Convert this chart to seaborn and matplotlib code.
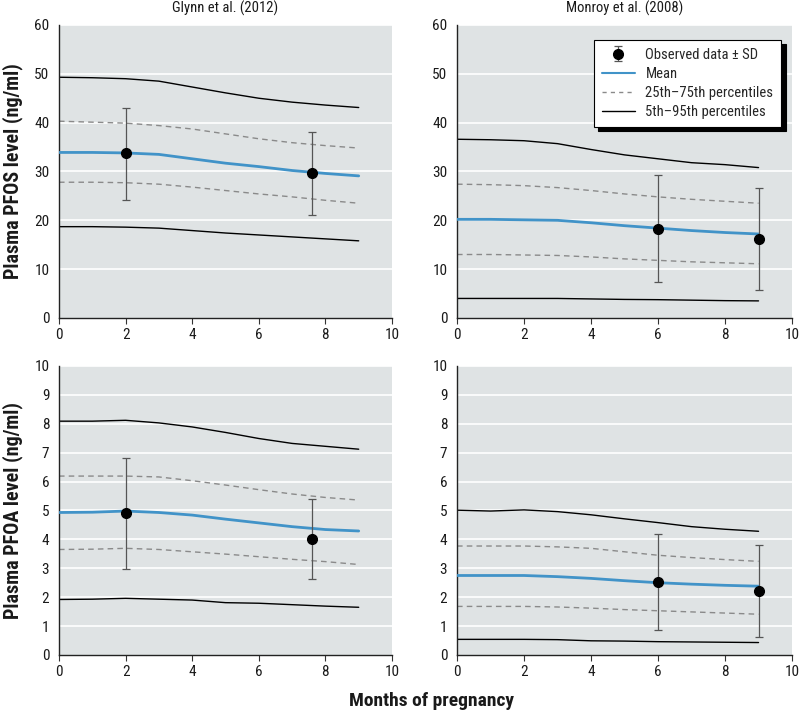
import numpy as np
import pandas as pd
import matplotlib
matplotlib.use("Agg")
import matplotlib.pyplot as plt
import seaborn as sns
from matplotlib.lines import Line2D
from matplotlib import font_manager as fm

# ---------------- data ----------------
months = [0, 1, 2, 3, 4, 5, 6, 7, 8, 9]

glynn_pfos_p95 = [49.3, 49.2, 49.0, 48.5, 47.3, 46.1, 45.0, 44.2, 43.6, 43.1]
glynn_pfos_p75 = [40.3, 40.1, 39.9, 39.4, 38.7, 37.7, 36.7, 35.9, 35.3, 34.8]
glynn_pfos_mean = [33.9, 33.9, 33.8, 33.5, 32.6, 31.7, 31.0, 30.2, 29.6, 29.1]
glynn_pfos_p25 = [27.8, 27.8, 27.7, 27.4, 26.8, 26.1, 25.4, 24.8, 24.1, 23.5]
glynn_pfos_p05 = [18.7, 18.7, 18.6, 18.4, 17.9, 17.4, 17.0, 16.6, 16.2, 15.8]
glynn_pfos_obs_x = [2.0, 7.6]
glynn_pfos_obs_y = [33.7, 29.6]
glynn_pfos_obs_lo = [24.2, 21.0]
glynn_pfos_obs_hi = [42.9, 38.0]

monroy_pfos_p95 = [36.6, 36.5, 36.3, 35.7, 34.5, 33.4, 32.6, 31.8, 31.4, 30.8]
monroy_pfos_p75 = [27.4, 27.3, 27.1, 26.7, 26.1, 25.4, 24.8, 24.3, 23.9, 23.5]
monroy_pfos_mean = [20.2, 20.2, 20.1, 20.0, 19.5, 18.9, 18.4, 17.9, 17.5, 17.2]
monroy_pfos_p25 = [13.0, 13.0, 12.9, 12.8, 12.5, 12.1, 11.8, 11.5, 11.3, 11.1]
monroy_pfos_p05 = [4.0, 4.0, 4.0, 4.0, 3.9, 3.8, 3.75, 3.65, 3.55, 3.5]
monroy_pfos_obs_x = [6.0, 9.0]
monroy_pfos_obs_y = [18.3, 16.2]
monroy_pfos_obs_lo = [7.3, 5.7]
monroy_pfos_obs_hi = [29.2, 26.6]

glynn_pfoa_p95 = [8.09, 8.09, 8.12, 8.03, 7.89, 7.70, 7.49, 7.32, 7.22, 7.12]
glynn_pfoa_p75 = [6.19, 6.19, 6.19, 6.16, 6.03, 5.88, 5.72, 5.57, 5.45, 5.36]
glynn_pfoa_mean = [4.93, 4.94, 4.98, 4.93, 4.84, 4.70, 4.57, 4.44, 4.34, 4.29]
glynn_pfoa_p25 = [3.65, 3.66, 3.69, 3.65, 3.57, 3.49, 3.40, 3.31, 3.23, 3.13]
glynn_pfoa_p05 = [1.92, 1.93, 1.96, 1.93, 1.90, 1.81, 1.79, 1.74, 1.69, 1.65]
glynn_pfoa_obs_x = [2.0, 7.6]
glynn_pfoa_obs_y = [4.92, 4.01]
glynn_pfoa_obs_lo = [2.98, 2.62]
glynn_pfoa_obs_hi = [6.80, 5.39]

monroy_pfoa_p95 = [5.01, 4.98, 5.02, 4.96, 4.85, 4.71, 4.58, 4.44, 4.35, 4.28]
monroy_pfoa_p75 = [3.77, 3.77, 3.77, 3.74, 3.69, 3.57, 3.45, 3.37, 3.30, 3.24]
monroy_pfoa_mean = [2.75, 2.75, 2.75, 2.71, 2.65, 2.57, 2.50, 2.45, 2.41, 2.38]
monroy_pfoa_p25 = [1.68, 1.68, 1.68, 1.66, 1.62, 1.57, 1.53, 1.49, 1.45, 1.41]
monroy_pfoa_p05 = [0.54, 0.54, 0.54, 0.53, 0.49, 0.48, 0.46, 0.45, 0.44, 0.43]
monroy_pfoa_obs_x = [6.0, 9.0]
monroy_pfoa_obs_y = [2.54, 2.23]
monroy_pfoa_obs_lo = [0.87, 0.61]
monroy_pfoa_obs_hi = [4.17, 3.80]

titles = ["Glynn et al. (2012)", "Monroy et al. (2008)"]
ylabels = ["Plasma PFOS level (ng/ml)", "Plasma PFOA level (ng/ml)"]
xlabel = "Months of pregnancy"
legend_labels = ["Observed data \u00b1 SD", "Mean", "25th\u201375th percentiles", "5th\u201395th percentiles"]

# ---------------- style ----------------
sns.set_theme(style="white")
names = {f.name for f in fm.fontManager.ttflist}
fam = [n for n in ["Liberation Sans Narrow", "Roboto Condensed", "Open Sans Condensed",
                   "DejaVu Sans"] if n in names]
plt.rcParams['font.family'] = fam + ['DejaVu Sans']
plt.rcParams['font.stretch'] = 'condensed'

BG = "#dfe3e4"
BLUE = "#4193c8"
DASH = "#8a8a8a"
ERR = "#555555"
TXT = "#1a1a1a"

fig = plt.figure(figsize=(8, 7.12), dpi=100)
pos = {
    (0, 0): [0.07375, 0.5534, 0.41625, 0.4115],
    (0, 1): [0.5713, 0.5534, 0.41875, 0.4115],
    (1, 0): [0.07375, 0.0801, 0.41625, 0.4059],
    (1, 1): [0.5713, 0.0801, 0.41875, 0.4059],
}

panels = {
    (0, 0): (glynn_pfos_p95, glynn_pfos_p75, glynn_pfos_mean, glynn_pfos_p25, glynn_pfos_p05,
             glynn_pfos_obs_x, glynn_pfos_obs_y, glynn_pfos_obs_lo, glynn_pfos_obs_hi),
    (0, 1): (monroy_pfos_p95, monroy_pfos_p75, monroy_pfos_mean, monroy_pfos_p25, monroy_pfos_p05,
             monroy_pfos_obs_x, monroy_pfos_obs_y, monroy_pfos_obs_lo, monroy_pfos_obs_hi),
    (1, 0): (glynn_pfoa_p95, glynn_pfoa_p75, glynn_pfoa_mean, glynn_pfoa_p25, glynn_pfoa_p05,
             glynn_pfoa_obs_x, glynn_pfoa_obs_y, glynn_pfoa_obs_lo, glynn_pfoa_obs_hi),
    (1, 1): (monroy_pfoa_p95, monroy_pfoa_p75, monroy_pfoa_mean, monroy_pfoa_p25, monroy_pfoa_p05,
             monroy_pfoa_obs_x, monroy_pfoa_obs_y, monroy_pfoa_obs_lo, monroy_pfoa_obs_hi),
}

for (r, c), vals in panels.items():
    p95, p75, mean, p25, p05, ox, oy, olo, ohi = vals
    ax = fig.add_axes(pos[(r, c)])
    ax.set_facecolor(BG)
    df = pd.DataFrame({"month": months, "p95": p95, "p75": p75, "mean": mean,
                       "p25": p25, "p05": p05})
    ymax = 60 if r == 0 else 10
    step = 10 if r == 0 else 1
    yt = np.arange(0, ymax + step / 2, step)
    for y in yt[1:]:
        ax.axhline(y, color="white", lw=1.2, zorder=0.5)

    sns.lineplot(data=df, x="month", y="p95", ax=ax, color="black", lw=1.0, zorder=2)
    sns.lineplot(data=df, x="month", y="p05", ax=ax, color="black", lw=1.0, zorder=2)
    sns.lineplot(data=df, x="month", y="p75", ax=ax, color=DASH, lw=1.0, zorder=2,
                 linestyle=(0, (4, 3)))
    sns.lineplot(data=df, x="month", y="p25", ax=ax, color=DASH, lw=1.0, zorder=2,
                 linestyle=(0, (4, 3)))
    sns.lineplot(data=df, x="month", y="mean", ax=ax, color=BLUE, lw=2.0, zorder=3)

    oy_a = np.array(oy)
    yerr = np.vstack([oy_a - np.array(olo), np.array(ohi) - oy_a])
    ax.errorbar(ox, oy, yerr=yerr, fmt="o", color="black", ms=7, ecolor=ERR,
                elinewidth=0.9, capsize=3, capthick=0.9, zorder=4)

    ax.set_xlim(0, 10)
    ax.set_ylim(0, ymax)
    ax.set_xticks([0, 2, 4, 6, 8, 10])
    ax.set_yticks(yt)
    ax.set_xticklabels([str(v) for v in [0, 2, 4, 6, 8, 10]], fontsize=11, color=TXT)
    ax.set_yticklabels([str(int(v)) for v in yt], fontsize=11, color=TXT)
    ax.tick_params(axis="x", bottom=True, length=4, width=0.8, color="#333333", pad=3)
    ax.tick_params(axis="y", left=False, length=0, pad=7)
    for s in ["top", "right"]:
        ax.spines[s].set_visible(False)
    for s in ["left", "bottom"]:
        ax.spines[s].set_visible(True)
        ax.spines[s].set_color("#222222")
        ax.spines[s].set_linewidth(1.0)
    ax.set_xlabel("")
    if c == 0:
        ax.set_ylabel(ylabels[r], fontsize=14.5, fontweight="bold", labelpad=8, color=TXT)
    else:
        ax.set_ylabel("")
    if r == 0:
        ax.set_title(titles[c], fontsize=10.5, pad=9, color=TXT)

    if (r, c) == (0, 1):
        h0 = ax.errorbar([0], [0], yerr=[[1], [1]], fmt="o", color="black", ms=7,
                         ecolor=ERR, elinewidth=0.9, capsize=3, capthick=0.9)
        h0.remove()
        handles = [
            h0,
            Line2D([0], [0], color=BLUE, lw=1.5),
            Line2D([0], [0], color=DASH, lw=1.0, linestyle=(0, (3, 3))),
            Line2D([0], [0], color="black", lw=1.0),
        ]
        leg = ax.legend(handles, legend_labels, loc="upper right",
                        bbox_to_anchor=(0.99, 0.975), fontsize=10.5, frameon=True,
                        fancybox=False, shadow={"color": "black", "alpha": 1.0, "ox": 3, "oy": -3},
                        edgecolor="black", framealpha=1.0, handlelength=2.3,
                        borderpad=0.55, labelspacing=0.35, handletextpad=0.7)
        leg.get_frame().set_linewidth(0.8)

fig.text(0.54, 0.003, xlabel, ha="center", va="bottom", fontsize=14, fontweight="bold",
         color=TXT)

fig.savefig("out.png", dpi=100, facecolor="white")
